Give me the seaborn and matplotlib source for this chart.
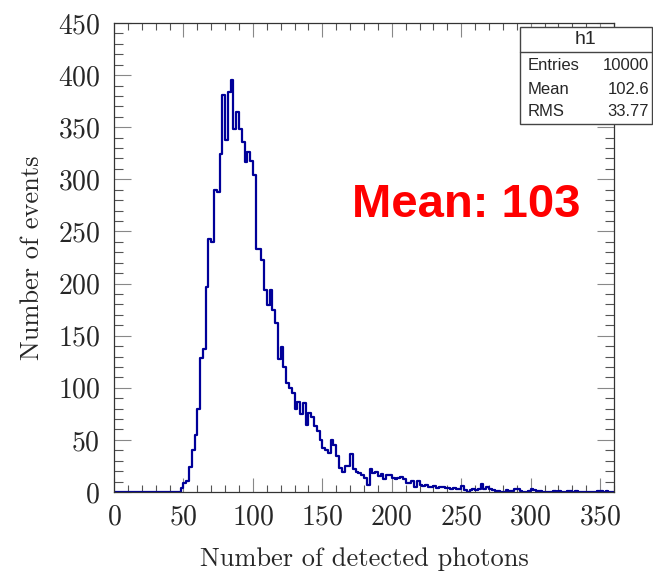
import numpy as np
import pandas as pd
import matplotlib
matplotlib.use("Agg")
import matplotlib.pyplot as plt
import seaborn as sns
from matplotlib.ticker import MultipleLocator

# ---------------- data ----------------
x_min = 0
x_max = 360
bin_width = 2
counts = (
    [0] * 24 +
    [4, 9, 11, 24, 40, 55, 80, 129, 137, 197,
     243, 240, 290, 288, 324, 381, 338, 384, 395, 348,
     365, 348, 336, 317, 326, 318, 304, 233, 233, 223,
     194, 179, 194, 175, 162, 128, 139, 120, 105, 100,
     95, 80, 86, 75, 85, 64, 76, 72, 63, 59,
     50, 42, 40, 37, 50, 45, 35, 23, 19, 25,
     25, 36, 22, 19, 18, 16, 13, 7, 22, 18,
     19, 15, 17, 12, 16, 16, 13, 12, 13, 14,
     12, 9, 9, 11, 5, 11, 7] +
    [6, 7, 5, 5, 6, 4, 5, 5, 4, 4,
     3, 4, 3, 3, 6, 2, 0, 2, 3, 2,
     3, 8, 3, 5, 3, 2, 1, 1, 0, 0,
     2, 1, 1, 3, 3, 1, 0, 0, 1, 3,
     2, 1, 1, 0, 0, 0, 0, 1, 0, 1,
     0, 0, 1, 1, 0, 1, 0, 0, 0, 0,
     0, 0, 0, 1, 1, 0, 1, 0, 0]
)
stats_title = "h1"
stats_labels = ["Entries", "Mean", "RMS"]
stats_values = ["10000", "102.6", "33.77"]
annotation = "Mean: 103"
x_label = "Number of detected photons"
y_label = "Number of events"
y_max = 450

# ---------------- build frame ----------------
n_bins = len(counts)
centers = x_min + bin_width * np.arange(n_bins) + bin_width / 2
df = pd.DataFrame({"photons": centers, "events": counts})

sns.set_style("ticks")
plt.rcParams["font.family"] = ["cmr10", "DejaVu Serif"]
plt.rcParams["axes.formatter.use_mathtext"] = True
plt.rcParams["mathtext.fontset"] = "cm"

fig = plt.figure(figsize=(6.53, 5.77), dpi=100)
ax = fig.add_axes([114 / 653, 1 - 492 / 577, 500 / 653, 469 / 577])

sns.histplot(data=df, x="photons", weights="events",
             binwidth=bin_width, binrange=(x_min, x_min + bin_width * n_bins),
             element="step", fill=False, color="#000099", linewidth=1.6,
             ax=ax)

ax.set_xlim(x_min, x_max)
ax.set_ylim(0, y_max)
ax.xaxis.set_major_locator(MultipleLocator(50))
ax.xaxis.set_minor_locator(MultipleLocator(10))
ax.yaxis.set_major_locator(MultipleLocator(50))
ax.yaxis.set_minor_locator(MultipleLocator(10))

ax.tick_params(axis="both", which="both", direction="in", top=True, right=True,
               labelsize=20, width=0.8)
ax.tick_params(axis="y", which="major", length=12, color="#888888", pad=10)
ax.tick_params(axis="y", which="minor", length=6.5, color="#555555")
ax.tick_params(axis="x", which="major", length=10, color="#888888", pad=9)
ax.tick_params(axis="x", which="minor", length=5, color="#555555")

for sp in ax.spines.values():
    sp.set_color("#333333")
    sp.set_linewidth(0.9)

ax.set_xlabel(x_label, fontsize=19, labelpad=12)
ax.set_ylabel(y_label, fontsize=19, labelpad=10)

ax.text(0.476, 0.612, annotation, transform=ax.transAxes, color="#ff0000",
        fontsize=34, fontweight="bold", family="Liberation Sans",
        va="center", ha="left")

# ---------------- stats box ----------------
bx0, bx1 = 520 / 653, 652 / 653
by0, by1 = 1 - 124 / 577, 1 - 27 / 577
fig.patches.append(plt.Rectangle((bx0, by0), bx1 - bx0, by1 - by0,
                                 transform=fig.transFigure, facecolor="white",
                                 edgecolor="#444444", linewidth=1.0, zorder=5))
fig.add_artist(plt.Line2D([bx0, bx1], [1 - 52 / 577] * 2,
                          transform=fig.transFigure, color="#444444",
                          linewidth=1.0, zorder=6))
fig.text((bx0 + bx1) / 2, 1 - 40 / 577, stats_title, ha="center", va="center",
         fontsize=14, family="Liberation Sans", zorder=7)
row_y = [65, 89, 112]
for lab, val, yy in zip(stats_labels, stats_values, row_y):
    fig.text(528 / 653, 1 - yy / 577, lab, ha="left", va="center",
             fontsize=12, family="Liberation Sans", zorder=7)
    fig.text(649 / 653, 1 - yy / 577, val, ha="right", va="center",
             fontsize=12, family="Liberation Sans", zorder=7)

fig.savefig("out.png", dpi=100)
